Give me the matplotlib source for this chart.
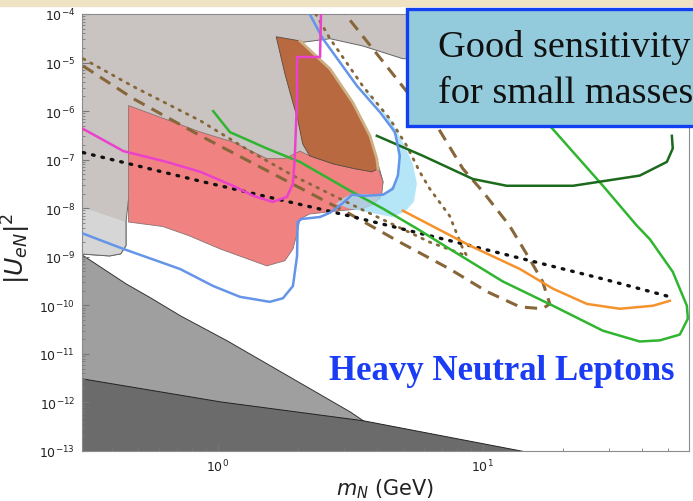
import numpy as np
import matplotlib.pyplot as plt
from matplotlib.patches import Rectangle
from matplotlib.ticker import LogLocator, NullFormatter

# ---- exclusion regions (mass in GeV, |U_eN|^2) ----
bbn_mass = [0.30, 1.02, 3.52, 14.2]
bbn_u2 = [3.2e-12, 1.05e-12, 4.3e-13, 1e-13]

seesaw_mass = [0.30, 0.45, 0.55, 0.72, 1.08, 3.15, 3.59]
seesaw_u2 = [1.2e-9, 2.8e-10, 1.5e-10, 6.2e-11, 1.9e-11, 6.5e-13, 4.0e-13]

excl_mass = [0.30, 5.17, 5.17, 4.99, 3.52, 2.65, 2.07, 2.65, 3.23, 3.75, 4.02, 4.20,
             4.09, 2.04, 0.86, 0.46, 0.45, 0.45, 0.43, 0.39, 0.30]
excl_u2 = [1e-4, 1e-4, 1.2e-5, 1.2e-5, 2.2e-5, 3.1e-5, 2.6e-5, 7.4e-6, 1.5e-6, 3.1e-7, 8.2e-8, 3.5e-8,
           1.55e-8, 9.8e-9, 1.55e-8, 1.55e-8, 5.2e-9, 1.7e-9, 1.15e-9, 1.04e-9, 1.15e-9]

excl_low_mass = [0.30, 0.45, 0.45, 0.43, 0.39, 0.30]
excl_low_u2 = [1.1e-8, 5.2e-9, 1.7e-9, 1.15e-9, 1.04e-9, 1.15e-9]

delphi_mass = [1.66, 2.04, 2.65, 3.23, 3.75, 3.98, 4.02, 3.81, 3.29, 2.72, 2.22, 2.09, 2.00, 1.90, 1.79]
delphi_u2 = [3.4e-5, 2.8e-5, 7.4e-6, 1.5e-6, 3.1e-7, 1.05e-7, 6.5e-8, 5.6e-8, 6.5e-8, 8.2e-8,
             1.2e-7, 2.1e-7, 6.9e-7, 1.8e-6, 5.9e-6]

belle_mass = [0.46, 0.86, 1.14, 1.53, 1.79, 2.04, 2.22, 2.72, 3.29, 3.81, 4.02, 4.20, 4.16, 3.91,
              3.52, 2.89, 2.22, 2.04, 1.99, 1.92, 1.79, 1.53, 1.29, 1.02, 0.78, 0.62, 0.46]
belle_u2 = [1.3e-6, 3.7e-7, 2.3e-7, 1.05e-7, 1.05e-7, 1.5e-7, 1.2e-7, 8.2e-8, 6.5e-8, 5.9e-8, 7.0e-8,
            3.5e-8, 2.0e-8, 1.23e-8, 9.8e-9, 8.9e-9, 7.6e-9, 6.0e-9, 3.0e-9, 1.45e-9, 8.3e-10,
            6.5e-10, 9.1e-10, 1.45e-9, 2.7e-9, 4.2e-9, 5.2e-9]

lhc_mass = [3.49, 3.91, 4.46, 5.08, 5.44, 5.64, 5.49, 5.08, 4.54, 3.75, 3.15, 2.79, 2.94, 3.21,
            4.20, 4.66, 4.82, 4.70, 4.27, 3.81]
lhc_u2 = [2.9e-6, 1.5e-6, 6.9e-7, 1.9e-7, 8.2e-8, 3.2e-8, 1.35e-8, 8.5e-9, 6.6e-9, 8.1e-9, 9.8e-9,
          1.23e-8, 1.55e-8, 2.0e-8, 1.9e-8, 3.2e-8, 8.2e-8, 2.7e-7, 7.6e-7, 2.0e-6]

# ---- sensitivity curves ----
ship_mass = [0.31, 0.44, 0.72, 0.96, 1.21, 1.57, 1.76, 1.92, 1.99, 2.00, 2.07, 2.43, 2.65, 2.94,
             3.21, 3.59, 4.20, 4.57, 4.78, 4.86, 4.66, 4.09, 3.35, 2.49, 2.22]
ship_u2 = [3.0e-9, 1.45e-9, 5.6e-10, 2.5e-10, 1.5e-10, 1.18e-10, 1.4e-10, 2.5e-10, 1.04e-9, 5.2e-9,
           6.0e-9, 6.6e-9, 8.1e-9, 1.23e-8, 1.9e-8, 1.8e-8, 1.9e-8, 2.5e-8, 4.7e-8, 1.2e-7, 3.7e-7,
           9.5e-7, 3.3e-6, 3.1e-5, 1e-4]

dune_mass = [0.31, 0.44, 0.64, 0.86, 1.14, 1.36, 1.61, 1.82, 1.92, 1.95, 1.99, 1.99, 2.43, 2.45]
dune_u2 = [4.3e-7, 1.5e-7, 9.0e-8, 5.6e-8, 2.9e-8, 1.8e-8, 1.35e-8, 1.7e-8, 3.2e-8, 1.05e-7,
           1.8e-6, 1.3e-5, 1.3e-5, 1e-4]

mathusla_mass = [0.31, 0.86, 3.15, 8.93, 28.4, 50.8]
mathusla_u2 = [1.4e-7, 3.6e-8, 6.9e-9, 1.7e-9, 3.5e-10, 1.5e-10]

dotted_mass = [2.34, 2.65, 3.52, 4.46, 5.17, 5.78, 6.31, 7.50, 8.41, 8.71,
               6.31, 3.44, 1.92, 1.32, 0.86, 0.48, 0.31]
dotted_u2 = [1e-4, 3.1e-5, 3.3e-6, 6.9e-7, 1.9e-7, 5.6e-8, 2.5e-8, 6.9e-9, 1.45e-9, 1.04e-9,
             2.0e-9, 9.8e-9, 4.7e-8, 1.5e-7, 6.3e-7, 3.2e-6, 1.2e-5]

dashed_mass = [0.31, 0.48, 0.86, 1.76, 3.15, 4.86, 7.50, 10.4, 13.8, 16.8, 17.9,
               16.8, 15.0, 12.6, 10.0, 8.41, 6.70, 5.17, 3.85, 3.02]
dashed_u2 = [8.5e-6, 1.8e-6, 3.1e-7, 4.0e-8, 7.6e-9, 2.0e-9, 5.6e-10, 1.9e-10, 9.3e-11, 8.5e-11,
             1.07e-10, 3.1e-10, 9.1e-10, 4.4e-9, 2.2e-8, 6.5e-8, 5.0e-7, 2.5e-6, 1.9e-5, 1e-4]

fcc_mass = [0.96, 1.11, 1.53, 2.04, 3.15, 4.20, 5.64, 7.50, 11.9, 18.4, 28.4, 39.1, 46.6, 55.4,
            59.4, 58.9, 52.1, 42.7, 38.1, 28.4, 17.9, 13.8]
fcc_u2 = [1.0e-6, 3.7e-7, 1.7e-7, 9.0e-8, 2.3e-8, 9.8e-9, 3.8e-9, 1.45e-9, 3.1e-10, 9.8e-11,
          3.0e-11, 1.8e-11, 1.9e-11, 2.5e-11, 5.3e-11, 9.8e-11, 4.9e-10, 2.3e-9, 4.4e-9, 2.9e-8,
          5.0e-7, 2.9e-6]

lhcb_mass = [3.98, 5.94, 9.17, 12.3, 21.9, 39.1, 49.5, 52.1, 51.7]
lhcb_u2 = [3.1e-7, 1.2e-7, 4.0e-8, 2.9e-8, 2.9e-8, 4.7e-8, 9.0e-8, 1.7e-7, 3.1e-7]

cms_mass = [4.99, 8.93, 13.8, 18.4, 24.7, 32.9, 43.8, 50.8]
cms_u2 = [8.9e-9, 1.7e-9, 5.6e-10, 2.2e-10, 1.07e-10, 8.5e-11, 9.8e-11, 1.24e-10]

y_ticks = [1e-13, 1e-12, 1e-11, 1e-10, 1e-9, 1e-8, 1e-7, 1e-6, 1e-5, 1e-4]
x_ticks = [1, 10]

W, H = 693, 502
fig = plt.figure(figsize=(W / 100, H / 100), dpi=100)
fig.add_artist(Rectangle((0, 1 - 7 / H), 1, 7 / H, transform=fig.transFigure,
                         color='#efe3c3', zorder=0))
ax = fig.add_axes([82 / W, 1 - 452 / H, 607 / W, 437 / H])
ax.set_xscale('log')
ax.set_yscale('log')

ax.fill(excl_mass, excl_u2, facecolor='#c9c3c2', edgecolor='#666666', lw=0.7, zorder=1)
ax.fill(excl_low_mass, excl_low_u2, facecolor='#d6d6d6', edgecolor='none', zorder=1.1)
ax.plot(excl_low_mass[1:], excl_low_u2[1:], color='#666666', lw=0.7, zorder=1.2)
ax.fill_between(seesaw_mass, seesaw_u2, 1e-13, facecolor='#9f9f9f', edgecolor='#333333', lw=0.7, zorder=1.3)
ax.fill_between(bbn_mass, bbn_u2, 1e-13, facecolor='#6b6b6b', edgecolor='#222222', lw=0.7, zorder=1.4)
ax.fill(belle_mass, belle_u2, facecolor='#f08282', edgecolor='#8a7272', lw=0.6, zorder=2)
ax.fill(delphi_mass, delphi_u2, facecolor='#b8693f', edgecolor='#5a4a40', lw=0.6, zorder=2.1)
ax.plot(delphi_mass[1:7], delphi_u2[1:7], color='#cdb084', lw=2, zorder=2.2)
ax.fill(lhc_mass, lhc_u2, facecolor='#a3e0f6', edgecolor='none', alpha=0.8, zorder=2.3)

ax.plot(dashed_mass, dashed_u2, color='#876639', lw=2.2, ls=(0, (4, 2.6)), zorder=3)
ax.plot(dotted_mass, dotted_u2, color='#876639', lw=2.0, ls=(0, (0.6, 2.4)),
        dash_capstyle='round', zorder=3)
ax.plot(mathusla_mass, mathusla_u2, color='#111111', lw=2.4, ls=(0, (0.5, 2.4)),
        dash_capstyle='round', zorder=3.1)
ax.plot(fcc_mass, fcc_u2, color='#2fb52f', lw=1.8, zorder=3.2)
ax.plot(lhcb_mass, lhcb_u2, color='#1c6a1c', lw=1.8, zorder=3.2)
ax.plot(cms_mass, cms_u2, color='#f5922c', lw=1.8, zorder=3.2)
ax.plot(ship_mass, ship_u2, color='#6495e8', lw=1.8, zorder=3.3)
ax.plot(dune_mass, dune_u2, color='#ea42cc', lw=1.8, zorder=3.4)

for s in ax.spines.values():
    s.set_color('#8c8c8c')
ax.set_xticks(x_ticks)
ax.set_yticks(y_ticks)
ax.xaxis.set_minor_locator(LogLocator(base=10, subs=np.arange(2, 10), numticks=100))
ax.yaxis.set_minor_locator(LogLocator(base=10, subs=np.arange(2, 10), numticks=100))
ax.xaxis.set_minor_formatter(NullFormatter())
ax.yaxis.set_minor_formatter(NullFormatter())
ax.set_xlim(0.307, 60)
ax.set_ylim(1e-13, 1e-4)
ax.tick_params(which='both', direction='in', color='#777777', labelsize=9, labelcolor='#222222')
ax.tick_params(which='major', length=5, pad=5)
ax.tick_params(which='minor', length=2.5)

ax.set_xlabel(r'$m_N$ (GeV)', fontsize=15, color='#222222')
ax.xaxis.set_label_coords(0.5, -0.058)
ax.set_ylabel(r'$|U_{eN}|^2$', fontsize=18, color='#222222')
ax.yaxis.set_label_coords(-0.08, 0.467)

fig.add_artist(Rectangle((407 / W, 1 - 127 / H), 0.5, 117 / H, transform=fig.transFigure,
                         facecolor='#93cbdd', edgecolor='#1040f2', lw=2.4, zorder=5))
fig.text(438 / W, 1 - 57 / H, 'Good sensitivity', fontsize=27.5, family='Liberation Serif',
         color='#111111', va='baseline', ha='left', zorder=6)
fig.text(438 / W, 1 - 103 / H, 'for small masses', fontsize=27.5, family='Liberation Serif',
         color='#111111', va='baseline', ha='left', zorder=6)
fig.text(329 / W, 1 - 380 / H, 'Heavy Neutral Leptons', fontsize=25, family='Liberation Serif',
         weight='bold', color='#1a3cf5', va='baseline', ha='left', zorder=6)

fig.savefig('out.png', dpi=100)
